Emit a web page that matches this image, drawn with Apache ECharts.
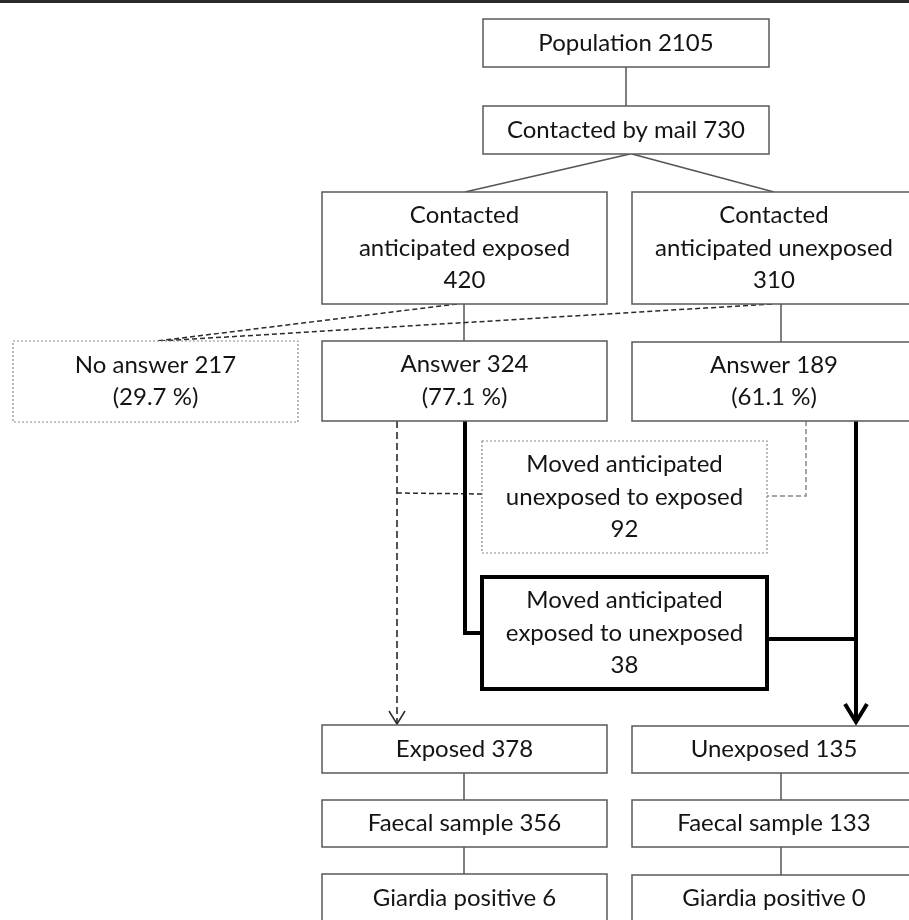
<!DOCTYPE html>
<html><head><meta charset="utf-8">
<script src="https://cdn.jsdelivr.net/npm/echarts@6/dist/echarts.min.js"></script>
<style>html,body{margin:0;padding:0;background:#fff}#c{width:909px;height:920px}</style>
</head><body><div id="c"></div>
<script>
// ---- data ----
const stageNames = ['Population', 'Contacted by mail', 'Contacted\nanticipated exposed', 'Contacted\nanticipated unexposed',
  'No answer', 'Answer', 'Answer', 'Moved anticipated\nunexposed to exposed', 'Moved anticipated\nexposed to unexposed',
  'Exposed', 'Unexposed', 'Faecal sample', 'Faecal sample', 'Giardia positive', 'Giardia positive'];
const stageCounts = [2105, 730, 420, 310, 217, 324, 189, 92, 38, 378, 135, 356, 133, 6, 0];
const stagePercents = [null, null, null, null, 29.7, 77.1, 61.1, null, null, null, null, null, null, null, null];

// ---- layout (pixel-space coordinates fed through hidden value axes) ----
const boxLayout = [
  [483, 19, 769, 67, 'solid'], [483, 106, 769, 154, 'solid'],
  [322, 192, 607, 304, 'solid'], [632, 192, 916, 304, 'solid'],
  [13, 341, 298, 422, 'dotted'], [322, 341, 607, 421, 'solid'], [632, 342, 916, 421, 'solid'],
  [482, 441, 767, 553, 'dotted'], [482, 577, 767, 689, 'thick'],
  [322, 725, 607, 773, 'solid'], [632, 726, 916, 773, 'solid'],
  [322, 800, 607, 847, 'solid'], [632, 800, 916, 847, 'solid'],
  [322, 874, 607, 922, 'solid'], [632, 875, 916, 922, 'solid']
];
const connectorLayout = [
  {pts: [[0, 1.5], [909, 1.5]], kind: 'rule'},
  {pts: [[626, 67], [626, 106]], kind: 'thin'},
  {pts: [[630, 154], [465, 192]], kind: 'thin'},
  {pts: [[632, 154], [774, 192]], kind: 'thin'},
  {pts: [[464, 304], [464, 341]], kind: 'thin'},
  {pts: [[781, 304], [781, 342]], kind: 'thin'},
  {pts: [[464, 773], [464, 800]], kind: 'thin'},
  {pts: [[464, 847], [464, 874]], kind: 'thin'},
  {pts: [[781, 773], [781, 800]], kind: 'thin'},
  {pts: [[781, 847], [781, 875]], kind: 'thin'},
  {pts: [[457, 304], [157, 341]], kind: 'dash'},
  {pts: [[772, 304], [160, 341]], kind: 'dash'},
  {pts: [[397, 421], [397, 723]], kind: 'dashLong', arrow: [[389, 711], [397, 724], [405, 711]]},
  {pts: [[482, 494], [397, 493]], kind: 'dash'},
  {pts: [[806, 421], [806, 496], [767, 496]], kind: 'dashGray'},
  {pts: [[465, 421], [465, 633], [482, 633]], kind: 'thick'},
  {pts: [[767, 639], [856, 639]], kind: 'thick'},
  {pts: [[856, 421], [856, 721]], kind: 'thick', arrow: [[845, 704], [856, 722], [867, 704]]}
];

const FONT_SIZE = 24, SCALE_X = 1.0, LINE_H = 32.5;

function labelFor(i) {
  const n = stageNames[i];
  let s = n.indexOf('\n') >= 0 ? n + '\n' + stageCounts[i] : n + ' ' + stageCounts[i];
  if (stagePercents[i] != null) s += '\n(' + stagePercents[i].toFixed(1) + ' %)';
  return s;
}

const lineStyles = {
  rule: {stroke: '#2a2a2a', lineWidth: 3},
  thin: {stroke: '#555', lineWidth: 1.5},
  dash: {stroke: '#2a2a2a', lineWidth: 1.5, lineDash: [5, 3]},
  dashLong: {stroke: '#2a2a2a', lineWidth: 1.6, lineDash: [7, 4]},
  dashGray: {stroke: '#888', lineWidth: 1.5, lineDash: [5, 3]},
  thick: {stroke: '#000', lineWidth: 4, lineJoin: 'miter'}
};
const borderStyles = {
  solid: {stroke: '#5a5a5a', lineWidth: 1.5},
  dotted: {stroke: '#8a8a8a', lineWidth: 1.2, lineDash: [2, 2]},
  thick: {stroke: '#000', lineWidth: 4}
};

const chart = echarts.init(document.getElementById('c'), null, {renderer: 'canvas'});
chart.setOption({
  animation: false,
  grid: {left: 0, right: 0, top: 0, bottom: 0},
  xAxis: {type: 'value', min: 0, max: 909, show: false},
  yAxis: {type: 'value', min: 0, max: 920, inverse: true, show: false},
  series: [
    {
      type: 'custom', clip: false, silent: true,
      data: connectorLayout.map((c, i) => [i]),
      renderItem: function (params, api) {
        const c = connectorLayout[api.value(0)];
        const st = lineStyles[c.kind];
        const children = [{
          type: 'polyline',
          shape: {points: c.pts.map(p => api.coord(p))},
          style: Object.assign({fill: null}, st)
        }];
        if (c.arrow) {
          children.push({
            type: 'polyline',
            shape: {points: c.arrow.map(p => api.coord(p))},
            style: Object.assign({fill: null}, st, {lineDash: null, lineWidth: c.kind === 'thick' ? 4 : 1.5})
          });
        }
        return {type: 'group', children: children};
      }
    },
    {
      type: 'custom', clip: false, silent: true,
      data: stageNames.map((n, i) => [i]),
      renderItem: function (params, api) {
        const i = api.value(0);
        const b = boxLayout[i];
        const p0 = api.coord([b[0], b[1]]);
        const p1 = api.coord([b[2], b[3]]);
        return {
          type: 'group',
          children: [
            {
              type: 'rect',
              shape: {x: p0[0], y: p0[1], width: p1[0] - p0[0], height: p1[1] - p0[1]},
              style: Object.assign({fill: '#fff'}, borderStyles[b[4]])
            },
            {
              type: 'text',
              x: (p0[0] + p1[0]) / 2, y: (p0[1] + p1[1]) / 2,
              scaleX: SCALE_X,
              style: {
                text: labelFor(i), x: 0, y: 0,
                align: 'center', verticalAlign: 'middle',
                fill: '#141414', fontFamily: 'Lato', fontSize: FONT_SIZE, lineHeight: LINE_H
              }
            }
          ]
        };
      }
    }
  ]
});
</script></body></html>
